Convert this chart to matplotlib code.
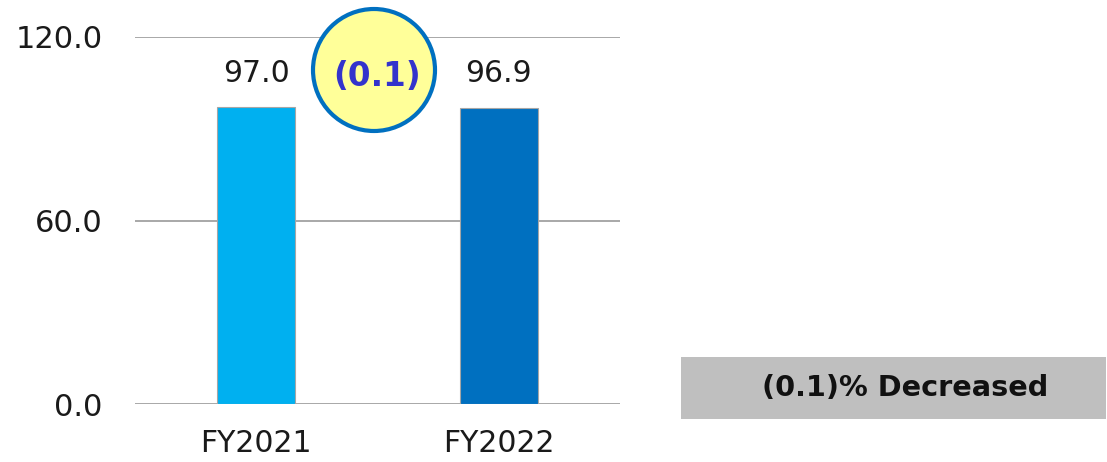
import matplotlib
matplotlib.use("Agg")
import matplotlib.pyplot as plt
from matplotlib.patches import Ellipse, Rectangle

categories = ["FY2021", "FY2022"]
values = [97.0, 96.9]
value_labels = ["97.0", "96.9"]
bar_colors = ["#00B0F0", "#0070C0"]
yticks = [0.0, 60.0, 120.0]
ytick_labels = ["0.0", "60.0", "120.0"]
change_label = "(0.1)"
summary_label = "(0.1)% Decreased"

W, H = 1107, 462
fig = plt.figure(figsize=(W / 100, H / 100), dpi=100)
ax = fig.add_axes([135 / W, 1 - 404 / H, (620 - 135) / W, (404 - 37) / H])

x = list(range(len(categories)))
ax.bar(x, values, width=0.32, color=bar_colors, edgecolor="#A6A6A6", linewidth=0.8, zorder=3)
for xi, v, lab in zip(x, values, value_labels):
    ax.annotate(lab, (xi, v), xytext=(0, 14), textcoords="offset points",
                ha="center", va="bottom", fontsize=21.5, color="#1a1a1a")

ax.set_xlim(-0.5, 1.5)
ax.set_ylim(0, 120)
ax.set_yticks(yticks)
ax.set_yticklabels(ytick_labels, fontsize=22, color="#1a1a1a")
ax.set_xticks(x)
ax.set_xticklabels(categories, fontsize=21.5, color="#1a1a1a")
ax.tick_params(axis="both", length=0)
ax.tick_params(axis="y", pad=23.5)
ax.tick_params(axis="x", pad=18)
ax.grid(axis="y", color="#999999", linewidth=1.2, zorder=0)
for s in ax.spines.values():
    s.set_visible(False)

# circle annotation
cx, cy, r = 374, 70, 61
circ = Ellipse((cx / W, 1 - cy / H), 2 * r / W, 2 * r / H, transform=fig.transFigure,
               facecolor="#FFFF99", edgecolor="#0070C0", linewidth=3, zorder=5)
fig.add_artist(circ)
fig.text(377 / W, 1 - (cy + 6) / H, change_label, ha="center", va="center",
         fontsize=23.5, fontweight="bold", color="#3333CC", zorder=6)

# summary box
bx0, bx1, by0, by1 = 681, 1106, 357, 419
box = Rectangle((bx0 / W, 1 - by1 / H), (bx1 - bx0) / W, (by1 - by0) / H,
                transform=fig.transFigure, facecolor="#BFBFBF", edgecolor="none")
fig.add_artist(box)
fig.text(905 / W, 1 - (by0 + by1) / 2 / H, summary_label, ha="center", va="center",
         fontsize=20.7, fontweight="bold", color="#111111")

fig.savefig("out.png", dpi=100)
